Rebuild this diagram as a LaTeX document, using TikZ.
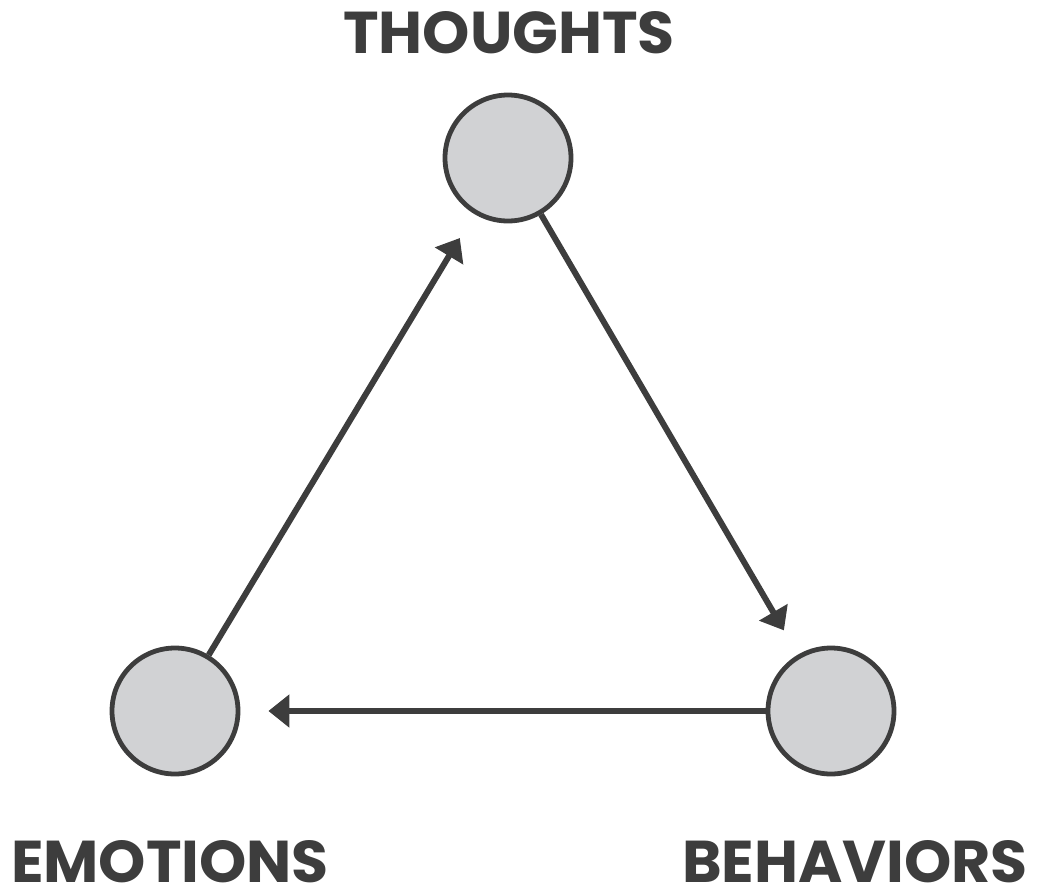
\documentclass[tikz,border=0pt]{standalone}
\usepackage{fontspec}
\setmainfont{Poppins}
\usetikzlibrary{arrows.meta}
\definecolor{ink}{HTML}{3D3D3D}
\definecolor{disc}{HTML}{D1D2D4}
\begin{document}
\begin{tikzpicture}[x=1pt,y=-1pt,
  vertex/.style={circle,draw=ink,fill=disc,line width=4.8pt,minimum size=126pt,inner sep=0pt},
  lbl/.style={text=ink,font=\fontsize{59}{59}\selectfont\bfseries,anchor=base,inner sep=0pt,text depth=0pt,xscale=1.02},
  link/.style={draw=ink,line width=6pt,-{Triangle[length=21pt,width=32pt]},shorten >=28pt}]
\useasboundingbox (0,0) rectangle (1038,892);
\node[vertex] (t) at (508,158) {};
\node[vertex] (e) at (175,711) {};
\node[vertex] (b) at (831,711) {};
\node[lbl] (tl) at (509,53) {THOUGHTS};
\node[lbl] (el) at (170,882) {EMOTIONS};
\node[lbl] (bl) at (855,882) {BEHAVIORS};
\draw[link] (t) -- (b);
\draw[link] (b) -- (e);
\draw[link] (e) -- (t);
\end{tikzpicture}
\end{document}
